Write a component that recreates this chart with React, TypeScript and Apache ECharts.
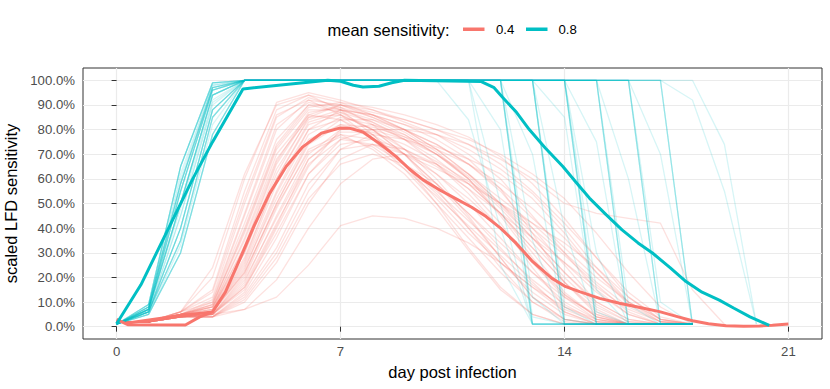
import React, { useEffect, useRef } from "react";
import * as echarts from "echarts";

const RED = "#F8766D";
const CYAN = "#00BFC4";
const FONT = "'Liberation Sans', Arial, Helvetica, sans-serif";

const xTicks = [0, 7, 14, 21];
const yTicks = [0, 0.1, 0.2, 0.3, 0.4, 0.5, 0.6, 0.7, 0.8, 0.9, 1.0];

const legendTitle = "mean sensitivity:";
const legendLabels = ["0.4", "0.8"];

// individual runs, mean sensitivity 0.4 (percent, one value per day from day 0)
const redRuns: number[][] = [
  [2, 2, 5, 10, 45, 80, 92, 90, 85, 80, 74, 66, 55, 40, 25, 10, 3, 1, 1],
  [2, 2, 6, 20, 60, 91, 95, 92, 88, 83, 78, 70, 60, 45, 30, 15, 5, 1, 1],
  [2, 2, 4, 6, 25, 55, 80, 88, 86, 82, 76, 68, 56, 38, 18, 5, 1, 1, 1],
  [2, 2, 5, 8, 30, 62, 85, 90, 87, 84, 80, 74, 66, 55, 42, 28, 14, 4, 1],
  [2, 2, 4, 5, 15, 40, 65, 80, 82, 78, 70, 60, 46, 30, 14, 4, 1, 1, 1],
  [2, 2, 4, 4, 12, 30, 55, 72, 78, 76, 72, 66, 58, 48, 36, 22, 10, 3, 1],
  [2, 2, 4, 4, 7, 19, 40, 58, 68, 70, 66, 58, 46, 32, 18, 6, 1, 1, 1],
  [2, 2, 6, 12, 50, 85, 93, 89, 82, 72, 60, 45, 28, 12, 3, 1, 1, 1, 1],
  [2, 2, 6, 15, 55, 88, 94, 91, 86, 80, 72, 62, 50, 36, 22, 9, 2, 1, 1],
  [2, 2, 5, 7, 28, 60, 82, 86, 80, 70, 58, 44, 28, 12, 3, 1, 1, 1, 1],
  [2, 2, 4, 5, 18, 45, 70, 80, 80, 76, 70, 62, 52, 42, 30, 18, 8, 2, 1],
  [2, 2, 5, 6, 22, 50, 75, 84, 84, 80, 74, 66, 56, 44, 32, 20, 10, 3, 1],
  [2, 2, 4, 4, 10, 26, 50, 68, 74, 72, 66, 56, 42, 24, 8, 2, 1, 1, 1],
  [2, 2, 5, 9, 38, 72, 88, 88, 84, 78, 70, 60, 48, 34, 20, 8, 2, 1, 1],
  [2, 2, 4, 5, 20, 48, 72, 78, 72, 62, 48, 31, 15, 5, 1, 1, 1, 1, 1],
  [2, 2, 5, 8, 35, 68, 85, 86, 80, 72, 62, 50, 36, 22, 10, 3, 1, 1, 1],
  [2, 2, 4, 4, 14, 36, 62, 76, 80, 80, 78, 74, 68, 60, 50, 46, 44, 42, 15, 1],
  [2, 2, 4, 6, 24, 52, 76, 82, 78, 70, 58, 46, 34, 22, 12, 5, 1, 1, 1],
  [2, 2, 6, 10, 42, 76, 90, 87, 80, 70, 56, 40, 24, 10, 2, 1, 1, 1, 1],
  [2, 2, 4, 5, 16, 38, 62, 74, 76, 72, 65, 56, 46, 36, 26, 16, 7, 2, 1],
  [2, 2, 5, 7, 30, 64, 84, 88, 86, 82, 78, 72, 64, 54, 40, 24, 10, 2, 1],
  [2, 2, 4, 4, 11, 28, 52, 66, 70, 66, 58, 46, 32, 18, 6, 1, 1, 1, 1],
  [2, 2, 5, 6, 26, 58, 80, 84, 78, 66, 50, 32, 16, 5, 1, 1, 1, 1, 1],
  [2, 2, 5, 8, 32, 66, 86, 90, 88, 84, 80, 76, 70, 62, 52, 38, 22, 8, 1],
  [2, 2, 4, 5, 19, 44, 68, 78, 76, 70, 62, 52, 40, 26, 12, 3, 1, 1, 1],
  [2, 2, 6, 14, 52, 86, 92, 86, 76, 64, 50, 36, 22, 10, 3, 1, 1, 1, 1],
  [2, 2, 4, 4, 13, 32, 58, 72, 74, 70, 64, 58, 50, 42, 34, 24, 12, 3, 1],
  [2, 2, 5, 9, 40, 74, 90, 90, 86, 80, 72, 62, 50, 38, 26, 14, 5, 1, 1],
  [2, 2, 5, 6, 23, 54, 78, 85, 82, 76, 68, 58, 46, 32, 18, 7, 1, 1, 1],
  [2, 2, 4, 5, 17, 42, 66, 76, 74, 66, 54, 40, 26, 14, 5, 1, 1, 1, 1],
  [2, 2, 4, 5, 7, 12, 25, 41, 45, 44, 40, 34, 26, 16, 6, 1, 1, 1, 1],
  [2, 2, 6, 24, 62, 90, 94, 88, 78, 66, 52, 38, 26, 16, 8, 3, 1, 1, 1],
  [2, 2, 5, 11, 46, 82, 91, 88, 83, 76, 66, 54, 40, 26, 13, 4, 1, 1, 1],
  [2, 2, 4, 6, 27, 60, 83, 87, 83, 77, 70, 61, 49, 36, 22, 10, 3, 1, 1],
  [2, 2, 5, 7, 33, 67, 87, 89, 85, 79, 71, 60, 45, 28, 13, 4, 1, 1, 1],
  [2, 2, 4, 5, 21, 50, 74, 82, 81, 77, 73, 68, 62, 52, 38, 22, 9, 2, 1],
  [2, 2, 5, 8, 36, 70, 86, 84, 76, 66, 55, 43, 31, 19, 9, 2, 1, 1, 1],
  [2, 2, 4, 5, 16, 41, 68, 79, 79, 74, 67, 59, 50, 40, 29, 17, 6, 1, 1],
  [2, 2, 5, 9, 39, 73, 89, 91, 89, 86, 82, 77, 69, 58, 44, 28, 12, 3, 1],
  [2, 2, 4, 6, 22, 49, 71, 77, 73, 64, 53, 41, 29, 17, 7, 2, 1, 1, 1],
];

// individual runs, mean sensitivity 0.8 (percent, one value per day from day 0)
const cyanRuns: number[][] = [
  [1, 5, 30, 78, 100, 100, 100, 100, 100, 100, 100, 100, 100, 1, 1, 1, 1, 1, 1],
  [1, 7, 50, 94, 100, 100, 100, 100, 100, 100, 100, 100, 100, 1, 1, 1, 1, 1, 1],
  [1, 9, 65, 99, 100, 100, 100, 100, 100, 100, 100, 100, 100, 4, 1, 1, 1, 1, 1],
  [1, 7, 55, 96, 100, 100, 100, 100, 100, 100, 100, 100, 100, 12, 1, 1, 1, 1, 1],
  [1, 6, 40, 88, 100, 100, 100, 100, 100, 100, 100, 100, 80, 1, 1, 1, 1, 1, 1],
  [1, 8, 58, 97, 100, 100, 100, 100, 100, 100, 100, 100, 50, 1, 1, 1, 1, 1, 1],
  [1, 6, 35, 85, 100, 100, 100, 100, 100, 100, 100, 100, 25, 1, 1, 1, 1, 1, 1],
  [1, 7, 50, 94, 100, 100, 100, 100, 100, 100, 100, 84, 40, 1, 1, 1, 1, 1, 1],
  [1, 6, 40, 88, 100, 100, 100, 100, 100, 100, 100, 100, 100, 100, 1, 1, 1, 1, 1],
  [1, 8, 58, 97, 100, 100, 100, 100, 100, 100, 100, 100, 100, 100, 1, 1, 1, 1, 1],
  [1, 5, 30, 78, 100, 100, 100, 100, 100, 100, 100, 100, 100, 100, 8, 1, 1, 1, 1],
  [1, 9, 65, 99, 100, 100, 100, 100, 100, 100, 100, 100, 100, 100, 3, 1, 1, 1, 1],
  [1, 7, 55, 96, 100, 100, 100, 100, 100, 100, 100, 100, 100, 70, 1, 1, 1, 1, 1],
  [1, 6, 35, 85, 100, 100, 100, 100, 100, 100, 100, 100, 100, 35, 1, 1, 1, 1, 1],
  [1, 7, 50, 94, 100, 100, 100, 100, 100, 100, 100, 100, 100, 100, 100, 1, 1, 1, 1],
  [1, 6, 40, 88, 100, 100, 100, 100, 100, 100, 100, 100, 100, 100, 100, 1, 1, 1, 1],
  [1, 8, 58, 97, 100, 100, 100, 100, 100, 100, 100, 100, 100, 100, 100, 6, 1, 1, 1],
  [1, 7, 55, 96, 100, 100, 100, 100, 100, 100, 100, 100, 100, 100, 100, 15, 1, 1, 1],
  [1, 9, 65, 99, 100, 100, 100, 100, 100, 100, 100, 100, 100, 100, 85, 1, 1, 1, 1],
  [1, 5, 30, 78, 100, 100, 100, 100, 100, 100, 100, 100, 100, 100, 40, 1, 1, 1, 1],
  [1, 6, 35, 85, 100, 100, 100, 100, 100, 100, 100, 100, 100, 100, 100, 100, 1, 1, 1],
  [1, 7, 50, 94, 100, 100, 100, 100, 100, 100, 100, 100, 100, 100, 100, 100, 1, 1, 1],
  [1, 8, 58, 97, 100, 100, 100, 100, 100, 100, 100, 100, 100, 100, 100, 100, 9, 1, 1],
  [1, 6, 40, 88, 100, 100, 100, 100, 100, 100, 100, 100, 100, 100, 100, 75, 1, 1, 1],
  [1, 9, 65, 99, 100, 100, 100, 100, 100, 100, 100, 100, 100, 100, 100, 30, 1, 1, 1],
  [1, 7, 55, 96, 100, 100, 100, 100, 100, 100, 100, 100, 100, 100, 100, 100, 100, 1, 1],
  [1, 5, 30, 78, 100, 100, 100, 100, 100, 100, 100, 100, 100, 100, 100, 100, 100, 1, 1],
  [1, 7, 50, 94, 100, 100, 100, 100, 100, 100, 100, 100, 100, 100, 100, 100, 100, 10, 1],
  [1, 6, 35, 85, 100, 100, 100, 100, 100, 100, 100, 100, 100, 100, 100, 100, 60, 1, 1],
  [1, 8, 58, 97, 100, 100, 100, 100, 100, 100, 100, 100, 100, 100, 100, 100, 100, 100, 1],
  [1, 6, 40, 88, 100, 100, 100, 100, 100, 100, 100, 100, 100, 100, 100, 100, 100, 100, 1],
  [1, 9, 65, 99, 100, 100, 100, 100, 100, 100, 100, 100, 100, 100, 100, 100, 100, 70, 1],
  [1, 7, 50, 94, 100, 100, 100, 100, 100, 100, 100, 100, 100, 100, 100, 100, 100, 100, 100, 74, 1],
  [1, 7, 55, 96, 100, 100, 100, 100, 100, 100, 100, 100, 100, 100, 100, 100, 100, 100, 92, 55, 1],
  [1, 8, 60, 98, 100, 100, 100, 100, 100, 100, 100, 100, 100, 100, 100, 100, 100, 100, 1],
  [1, 6, 45, 90, 100, 100, 100, 100, 100, 100, 100, 100, 100, 1, 1, 1, 1, 1, 1],
  [1, 8, 62, 98, 100, 100, 100, 100, 100, 100, 100, 100, 100, 100, 1, 1, 1, 1, 1],
  [1, 6, 45, 91, 100, 100, 100, 100, 100, 100, 100, 100, 100, 100, 100, 1, 1, 1, 1],
  [1, 7, 48, 92, 100, 100, 100, 100, 100, 100, 100, 100, 100, 100, 100, 100, 1, 1, 1],
  [1, 5, 33, 82, 100, 100, 100, 100, 100, 100, 100, 100, 100, 100, 100, 100, 100, 1, 1],
];

// mean curves [day, fraction]
const redMean: number[][] = [
  [0, 0.03], [0.35, 0.008], [2.15, 0.007], [2.6, 0.04], [3.0, 0.06], [3.4, 0.14],
  [3.84, 0.27], [4.3, 0.41], [4.78, 0.54], [5.3, 0.65], [5.82, 0.73], [6.4, 0.785],
  [6.97, 0.806], [7.3, 0.805], [7.7, 0.79], [8.2, 0.745], [8.74, 0.69], [9.15, 0.64],
  [9.57, 0.597], [10.1, 0.555], [10.6, 0.52], [11.1, 0.485], [11.55, 0.447], [12.0, 0.4],
  [12.49, 0.339], [13.0, 0.265], [13.6, 0.197], [14.0, 0.165], [14.47, 0.142], [15.1, 0.115],
  [15.72, 0.095], [16.4, 0.077], [16.97, 0.061], [17.5, 0.042], [18.0, 0.024], [18.5, 0.012],
  [19.05, 0.004], [19.6, 0.002], [20.1, 0.003], [20.5, 0.006], [21.0, 0.011],
];
const redMeanStart: number[][] = [[0.3, 0.014], [2.0, 0.045], [3.0, 0.06]];

const cyanMean: number[][] = [
  [0, 0.012], [0.76, 0.17], [2.38, 0.6], [3.0, 0.75], [3.95, 0.965], [6.6, 1.0],
  [7.0, 0.996], [7.4, 0.98], [7.7, 0.973], [8.2, 0.976], [8.6, 0.99], [9.0, 1.0],
  [11.4, 0.995], [11.8, 0.97], [12.07, 0.93], [12.5, 0.87], [12.9, 0.8], [13.4, 0.725],
  [13.95, 0.65], [14.4, 0.58], [14.78, 0.522], [15.3, 0.455], [15.8, 0.393], [16.3, 0.34],
  [16.76, 0.298], [17.3, 0.24], [17.8, 0.183], [18.3, 0.14], [18.84, 0.108], [19.3, 0.075],
  [19.8, 0.04], [20.4, 0.005],
];

export default function App() {
  const ref = useRef<HTMLDivElement>(null);

  useEffect(() => {
    document.body.style.margin = "0";
    if (!ref.current) return;
    const chart = echarts.init(ref.current, undefined, { renderer: "svg" });

    const thin = (runs: number[][], color: string, opacity: number, prefix: string, z: number) =>
      runs.map((r, k) => ({
        type: "line",
        name: prefix + k,
        data: r.map((v, i) => [i, v / 100]),
        showSymbol: false,
        symbol: "none",
        silent: true,
        clip: false,
        z,
        lineStyle: { color, width: 1.3, opacity },
        emphasis: { disabled: true },
      }));

    const thick = (name: string, data: number[][], color: string, z: number) => ({
      type: "line",
      name,
      data,
      showSymbol: false,
      symbol: "none",
      silent: true,
      clip: false,
      z,
      color,
      lineStyle: { color, width: 3 },
      emphasis: { disabled: true },
    });

    const tickLabel = { color: "#4D4D4D", fontSize: 13.2, fontFamily: FONT };
    const titleStyle = { color: "#000000", fontSize: 16.5, fontFamily: FONT };

    chart.setOption({
      animation: false,
      backgroundColor: "#FFFFFF",
      textStyle: { fontFamily: FONT },
      grid: {
        left: 83,
        right: 8,
        top: 68,
        bottom: 50,
        containLabel: false,
        outerBoundsMode: "none",
        show: true,
        borderColor: "#333333",
        borderWidth: 1,
        backgroundColor: "transparent",
      },
      xAxis: {
        type: "value",
        min: -1.05,
        max: 22.05,
        name: "day post infection",
        nameLocation: "middle",
        nameGap: 24,
        nameTextStyle: titleStyle,
        axisLine: { show: false },
        axisTick: { show: true, length: 5, customValues: xTicks, lineStyle: { color: "#333333" } },
        axisLabel: { ...tickLabel, margin: 6, customValues: xTicks, formatter: (v: number) => String(v) },
        splitLine: { show: true, lineStyle: { color: "#EBEBEB", width: 1.2 } },
      },
      yAxis: {
        type: "value",
        min: -0.05,
        max: 1.05,
        name: "scaled LFD sensitivity",
        nameLocation: "middle",
        nameGap: 56,
        nameTextStyle: titleStyle,
        axisLine: { show: false },
        axisTick: { show: true, length: 5, customValues: yTicks, lineStyle: { color: "#333333" } },
        axisLabel: {
          ...tickLabel,
          margin: 8,
          customValues: yTicks,
          formatter: (v: number) => (v * 100).toFixed(1) + "%",
        },
        splitLine: { show: true, lineStyle: { color: "#EBEBEB", width: 1.2 } },
      },
      graphic: [
        {
          type: "text",
          left: 327.5,
          top: 21.5,
          style: { text: legendTitle, font: `16.5px ${FONT}`, fill: "#000000" },
        },
        { type: "rect", shape: { x: 463, y: 27.5, width: 21.5, height: 3.5 }, style: { fill: RED } },
        {
          type: "text",
          left: 496,
          top: 22.5,
          style: { text: legendLabels[0], font: `13.2px ${FONT}`, fill: "#000000" },
        },
        { type: "rect", shape: { x: 526, y: 27.5, width: 21.5, height: 3.5 }, style: { fill: CYAN } },
        {
          type: "text",
          left: 558.5,
          top: 22.5,
          style: { text: legendLabels[1], font: `13.2px ${FONT}`, fill: "#000000" },
        },
      ],
      series: [
        ...thin(redRuns, RED, 0.22, "r", 2),
        ...thin(cyanRuns, CYAN, 0.16, "c", 3),
        thick(legendLabels[0], redMean, RED, 5),
        thick(legendLabels[0] + " start", redMeanStart, RED, 5),
        thick(legendLabels[1], cyanMean, CYAN, 6),
      ],
    });

    return () => chart.dispose();
  }, []);

  return <div ref={ref} style={{ width: 830, height: 389 }} />;
}
